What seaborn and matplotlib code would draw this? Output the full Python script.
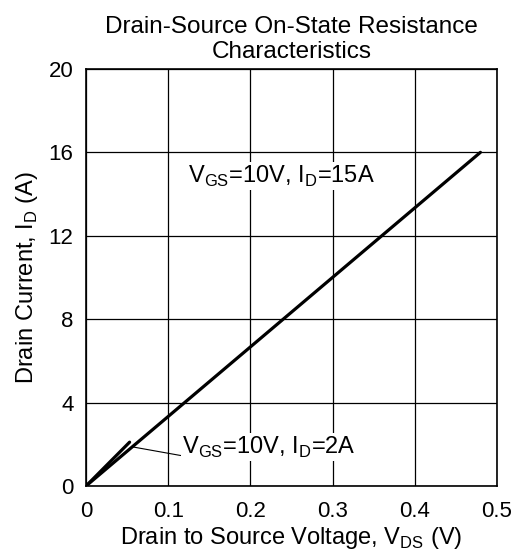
import matplotlib
matplotlib.use("Agg")
import matplotlib.pyplot as plt
import pandas as pd
import seaborn as sns

# curve values
vds_15a = [0.0, 0.48]
id_15a = [0.0, 16.0]
vds_2a = [0.0, 0.053]
id_2a = [0.0, 2.1]

x_ticks = [0, 0.1, 0.2, 0.3, 0.4, 0.5]
x_tick_labels = ["0", "0.1", "0.2", "0.3", "0.4", "0.5"]
y_ticks = [0, 4, 8, 12, 16, 20]

sns.set_theme(style="white")
plt.rcParams["font.family"] = ["Liberation Sans", "DejaVu Sans"]
plt.rcParams["mathtext.fontset"] = "custom"
plt.rcParams["mathtext.rm"] = "Liberation Sans"
plt.rcParams["text.color"] = "black"
plt.rcParams["axes.labelcolor"] = "black"

df = pd.concat([
    pd.DataFrame({"vds": vds_15a, "id": id_15a, "case": "15A"}),
    pd.DataFrame({"vds": vds_2a, "id": id_2a, "case": "2A"}),
])

fig, ax = plt.subplots(figsize=(5.28, 5.56), dpi=100)
sns.lineplot(data=df, x="vds", y="id", units="case", estimator=None,
             color="black", linewidth=2.3, ax=ax, legend=False)

ax.set_xlim(0, 0.5)
ax.set_ylim(0, 20)
ax.set_xticks(x_ticks)
ax.set_xticklabels(x_tick_labels)
ax.set_yticks(y_ticks)
ax.grid(True, color="black", linewidth=0.9)
for s in ax.spines.values():
    s.set_color("black")
    s.set_linewidth(1.2)
ax.tick_params(labelsize=16, colors="black", labelcolor="black", length=0)
ax.tick_params(axis="x", pad=11)
ax.tick_params(axis="y", pad=9)

ax.set_title("Drain-Source On-State Resistance\nCharacteristics", fontsize=17.5,
             pad=8, linespacing=1.15, color="black")
ax.set_xlabel(r"Drain to Source Voltage, V$_{\mathrm{DS}}$ (V)", fontsize=17, labelpad=2)
ax.set_ylabel(r"Drain Current, I$_{\mathrm{D}}$ (A)", fontsize=17, labelpad=6)

ax.text(0.124, 14.85, r"V$_{\mathrm{GS}}$=10V, I$_{\mathrm{D}}$=15A", fontsize=17,
        va="center", ha="left", color="black",
        bbox=dict(facecolor="white", edgecolor="none", pad=1))
ax.annotate(r"V$_{\mathrm{GS}}$=10V, I$_{\mathrm{D}}$=2A", xy=(0.057, 1.87),
            xytext=(0.117, 1.87), fontsize=17, va="center", ha="left", color="black",
            bbox=dict(facecolor="white", edgecolor="none", pad=1),
            arrowprops=dict(arrowstyle="-", color="black", linewidth=0.8,
                            shrinkA=0, shrinkB=0, relpos=(0.0, 0.15)))

fig.subplots_adjust(left=0.163, right=0.941, top=0.876, bottom=0.126)
fig.savefig("out.png", dpi=100)
